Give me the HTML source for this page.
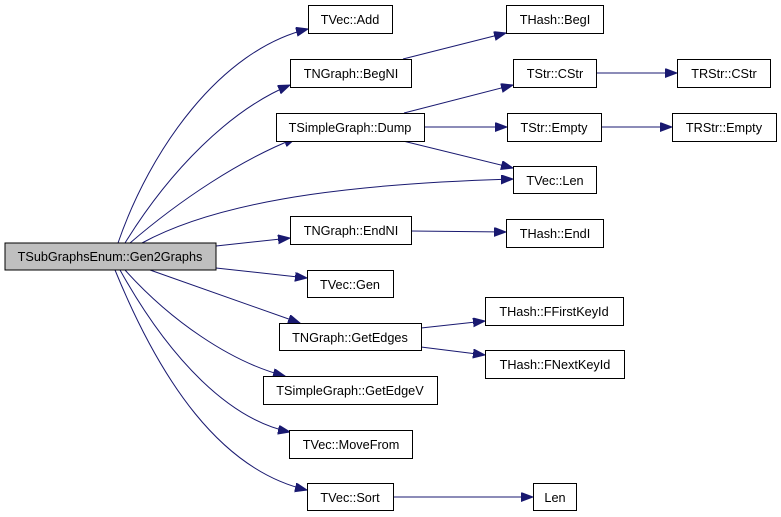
<!DOCTYPE html>
<html><head><meta charset="utf-8"><style>
html,body{margin:0;padding:0;background:#fff;}
svg{display:block;}
text{font-family:"Liberation Sans",sans-serif;font-size:12.7px;fill:#000;text-anchor:middle;}
rect{fill:#fff;stroke:#000;stroke-width:1;}
path{fill:none;stroke:#191970;stroke-width:1;}
</style></head><body>
<svg width="781" height="517" viewBox="0 0 781 517">
<defs>
<marker id="a" markerUnits="userSpaceOnUse" markerWidth="13" markerHeight="10" refX="12" refY="4.5" orient="auto">
<path d="M0,0 L12,4.5 L0,9 Z" style="fill:#191970;stroke:#191970"/>
</marker>
</defs>
<path marker-end="url(#a)" d="M118,243 C150,150 220,50 308,29"/>
<path marker-end="url(#a)" d="M125,243 C170,170 230,110 290,85"/>
<path marker-end="url(#a)" d="M130,243 C180,200 240,160 296,138"/>
<path marker-end="url(#a)" d="M142,243 C230,195 380,183 513,179"/>
<path marker-end="url(#a)" d="M216,246 L290,238"/>
<path marker-end="url(#a)" d="M216,268 L307,278"/>
<path marker-end="url(#a)" d="M150,270 L300,323"/>
<path marker-end="url(#a)" d="M125,270 C170,320 230,362 285,376"/>
<path marker-end="url(#a)" d="M120,270 C170,360 230,420 290,432"/>
<path marker-end="url(#a)" d="M115,270 C160,380 220,470 307,490"/>
<path marker-end="url(#a)" d="M403,59 L506,33"/>
<path marker-end="url(#a)" d="M404,113 L513,85"/>
<path marker-end="url(#a)" d="M424,127 L507,127"/>
<path marker-end="url(#a)" d="M403,141 L513,168"/>
<path marker-end="url(#a)" d="M596,73 L677,73"/>
<path marker-end="url(#a)" d="M601,127 L672,127"/>
<path marker-end="url(#a)" d="M411,231 L506,232"/>
<path marker-end="url(#a)" d="M421,328 L485,321"/>
<path marker-end="url(#a)" d="M421,347 L485,355"/>
<path marker-end="url(#a)" d="M393,497 L533,497"/>
<rect x="5" y="243" width="211" height="27" style="fill:#bfbfbf"/><text x="110" y="261">TSubGraphsEnum::Gen2Graphs</text>
<rect x="308.5" y="5.5" width="84" height="28"/><text x="350" y="24">TVec::Add</text>
<rect x="290.5" y="59.5" width="121" height="28"/><text x="351" y="78">TNGraph::BegNI</text>
<rect x="276.5" y="113.5" width="148" height="28"/><text x="350" y="132">TSimpleGraph::Dump</text>
<rect x="290.5" y="216.5" width="121" height="28"/><text x="351" y="235">TNGraph::EndNI</text>
<rect x="307.5" y="270.5" width="86" height="27"/><text x="350" y="289">TVec::Gen</text>
<rect x="279.5" y="323.5" width="142" height="27"/><text x="350" y="342">TNGraph::GetEdges</text>
<rect x="263.5" y="376.5" width="174" height="28"/><text x="350" y="395">TSimpleGraph::GetEdgeV</text>
<rect x="289.5" y="430.5" width="123" height="28"/><text x="351" y="449">TVec::MoveFrom</text>
<rect x="307.5" y="483.5" width="86" height="27"/><text x="350" y="502">TVec::Sort</text>
<rect x="506.5" y="5.5" width="97" height="28"/><text x="555" y="24">THash::BegI</text>
<rect x="513.5" y="59.5" width="83" height="28"/><text x="555" y="78">TStr::CStr</text>
<rect x="507.5" y="113.5" width="94" height="28"/><text x="554" y="132">TStr::Empty</text>
<rect x="513.5" y="166.5" width="83" height="27"/><text x="555" y="185">TVec::Len</text>
<rect x="506.5" y="219.5" width="97" height="28"/><text x="555" y="238">THash::EndI</text>
<rect x="485.5" y="297.5" width="138" height="28"/><text x="554" y="316">THash::FFirstKeyId</text>
<rect x="485.5" y="350.5" width="139" height="28"/><text x="555" y="369">THash::FNextKeyId</text>
<rect x="533.5" y="483.5" width="43" height="27"/><text x="555" y="502">Len</text>
<rect x="677.5" y="59.5" width="93" height="28"/><text x="724" y="78">TRStr::CStr</text>
<rect x="672.5" y="113.5" width="104" height="28"/><text x="724" y="132">TRStr::Empty</text>
</svg>
</body></html>
